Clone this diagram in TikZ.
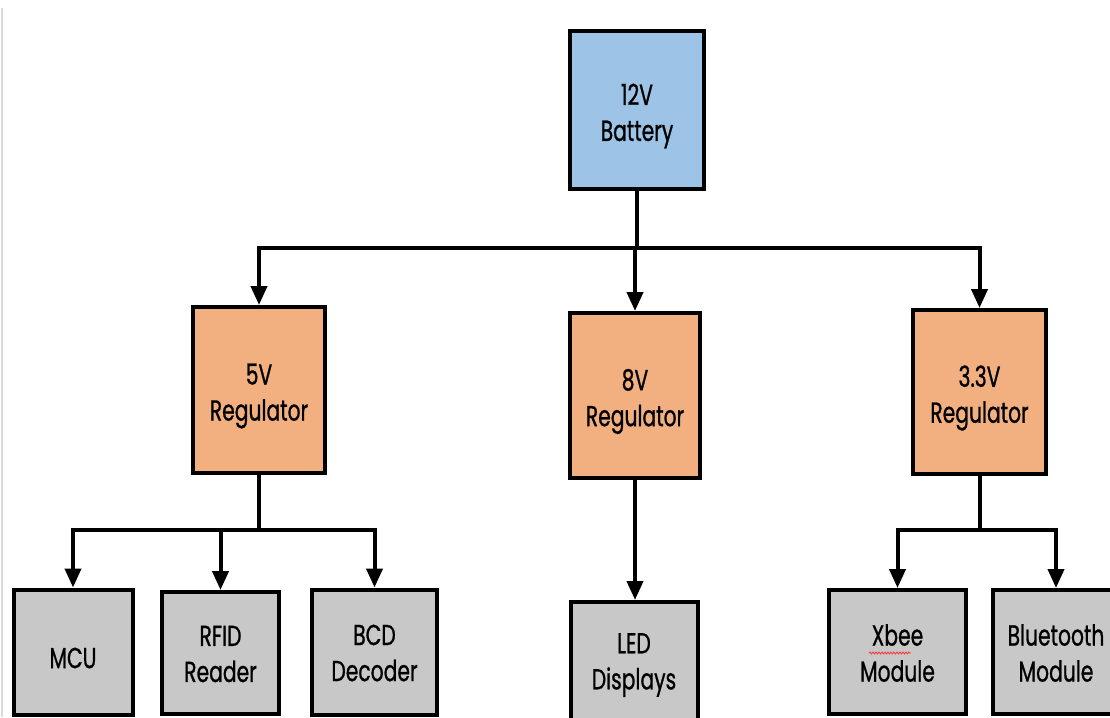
\documentclass[tikz,border=0pt]{standalone}
\usepackage{fontspec}
\setmainfont[FakeStretch=0.7,FakeBold=0.8]{Poppins}
\usetikzlibrary{arrows.meta,decorations.pathmorphing}
\definecolor{bblue}{HTML}{9DC3E6}
\definecolor{borange}{HTML}{F2AF80}
\definecolor{bgray}{HTML}{C8C8C8}
\begin{document}
\begin{tikzpicture}[x=1pt,y=-1pt,
  box/.style={draw=black,line width=4pt,inner sep=0pt},
  txt/.style={label={[font=\fontsize{29}{36}\selectfont,align=center,inner sep=0pt,yshift=-6pt]center:#1}},
  txtb/.style={label={[font=\fontsize{29}{36}\selectfont,align=center,inner sep=0pt,yshift=-1pt]center:#1}},
  arr/.style={line width=4pt,-{Triangle[length=19pt,width=16pt]}}]
\useasboundingbox (0,0) rectangle (1110,717);
\clip (0,0) rectangle (1110,717);
\fill[white] (0,0) rectangle (1110,717);
\draw[line width=1.5pt,black!14] (2,8) -- (2,717);
% nodes
\node[box,fill=bblue,minimum width=134pt,minimum height=158pt,txt={12V\\Battery}] (bat) at (637,110) {};
\node[box,fill=borange,minimum width=132pt,minimum height=166pt,txt={5V\\Regulator}] (r5) at (259,390) {};
\node[box,fill=borange,minimum width=130pt,minimum height=165pt,txt={8V\\Regulator}] (r8) at (635,395.5) {};
\node[box,fill=borange,minimum width=133pt,minimum height=164pt,txt={3.3V\\Regulator}] (r33) at (979.5,392) {};
\node[box,fill=bgray,minimum width=119pt,minimum height=125pt,txt={MCU}] (mcu) at (73,652) {};
\node[box,fill=bgray,minimum width=117pt,minimum height=122pt,txtb={RFID\\Reader}] (rfid) at (220.5,653) {};
\node[box,fill=bgray,minimum width=125pt,minimum height=125pt,txtb={BCD\\Decoder}] (bcd) at (374.5,652) {};
\node[box,fill=bgray,minimum width=127pt,minimum height=130pt] (led) at (634,667) {};
\node[font=\fontsize{29}{36}\selectfont,align=center,inner sep=0pt] (ledt) at (634,665) {LED\\Displays};
\node[box,fill=bgray,minimum width=137pt,minimum height=124pt,txtb={Xbee\\Module}] (xb) at (897.5,652) {};
\node[box,fill=bgray,minimum width=126pt,minimum height=124pt,txtb={Bluetooth\\Module}] (bt) at (1056,652) {};
% spellcheck squiggle
\coordinate (sq1) at (869,653);
\coordinate (sq2) at (911,653);
\draw[red!80,line width=0.8pt,decorate,decoration={snake,amplitude=1pt,segment length=3pt}] (sq1) -- (sq2);
% connectors
\coordinate (b1) at (637,248);
\coordinate (b2) at (259,530);
\coordinate (b3) at (979.5,530);
\draw[arr] (bat.south) -- (b1) -| (r5);
\draw[arr] (bat.south) -- (b1) -| (r33);
\draw[arr] (b1 -| r8) -- (r8);
\draw[arr] (r5.south) -- (b2) -| (mcu);
\draw[arr] (r5.south) -- (b2) -| (bcd);
\draw[arr] (b2 -| rfid) -- (rfid);
\draw[arr] (r8.south) -- (r8.south |- led.north);
\draw[arr] (r33.south) -- (b3) -| (xb);
\draw[arr] (r33.south) -- (b3) -| (bt);
\end{tikzpicture}
\end{document}
